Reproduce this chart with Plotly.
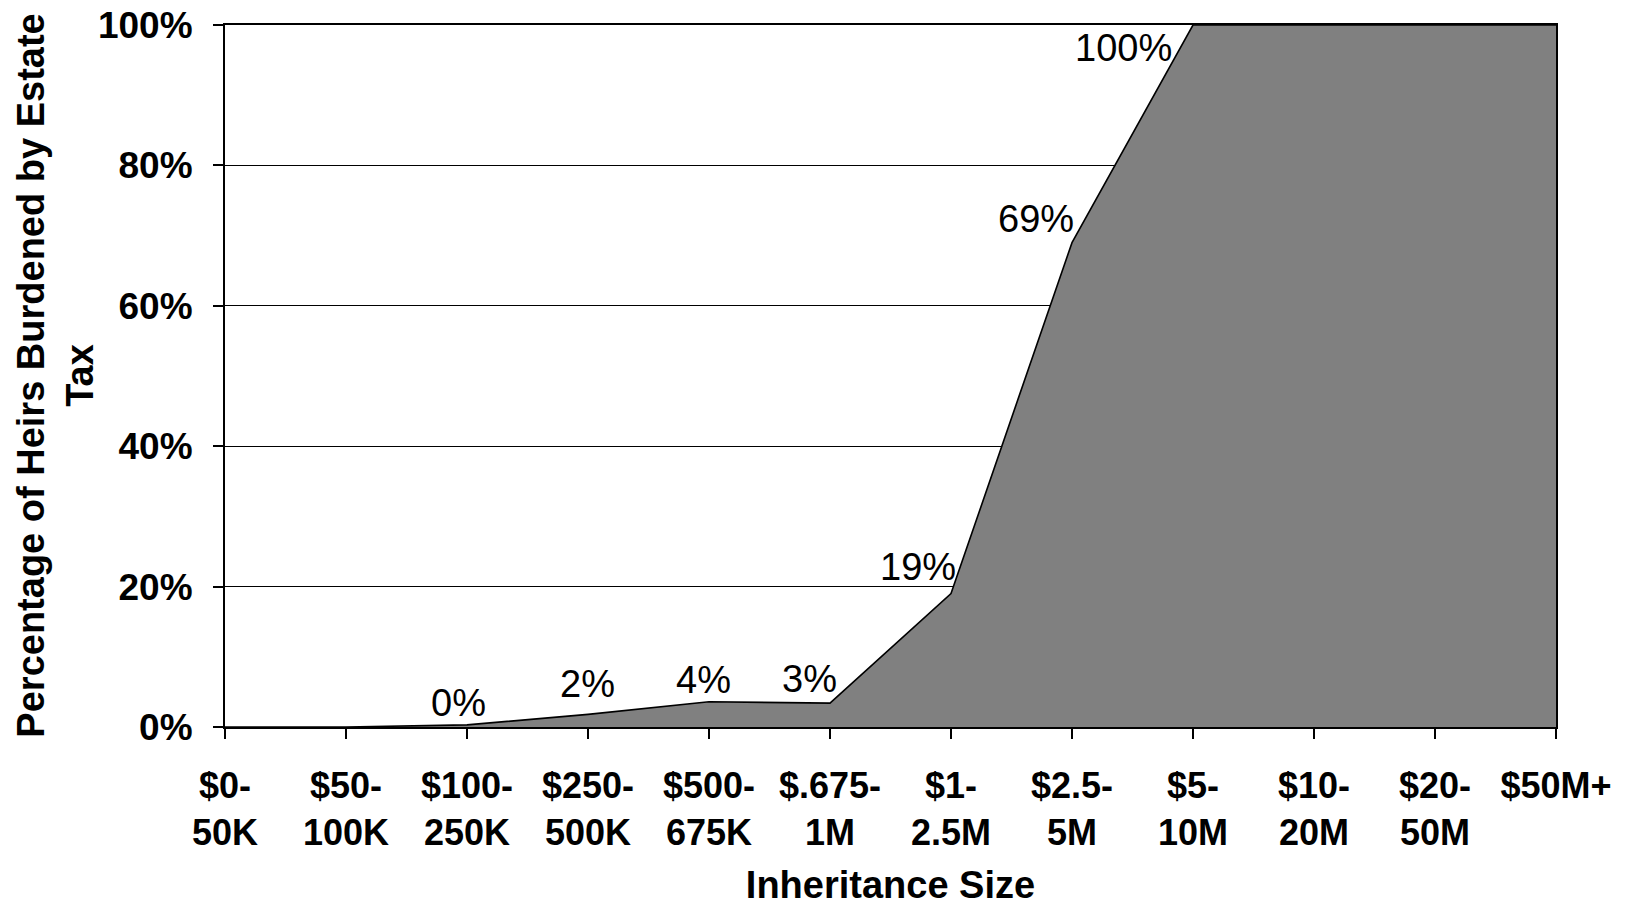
import plotly.graph_objects as go

# Inheritance size brackets (two-line tick labels)
categories = ["$0-<br>50K", "$50-<br>100K", "$100-<br>250K", "$250-<br>500K",
              "$500-<br>675K", "$.675-<br>1M", "$1-<br>2.5M", "$2.5-<br>5M",
              "$5-<br>10M", "$10-<br>20M", "$20-<br>50M", "$50M+"]
# Share of heirs burdened by the estate tax, percent
burdened_pct = [0, 0, 0.3, 1.8, 3.6, 3.4, 19, 69, 100, 100, 100, 100]
# Brackets that carry a value label
labelled = [2, 3, 4, 5, 6, 7, 8]
y_ticks = [0, 20, 40, 60, 80, 100]

x = list(range(len(categories)))
FONT = "Liberation Sans, Arial, sans-serif"

fig = go.Figure()
fig.add_trace(go.Scatter(
    x=x, y=burdened_pct, mode="lines", fill="tozeroy",
    fillcolor="#808080", line=dict(color="black", width=1.6),
    hoverinfo="skip", showlegend=False,
))

# label offsets in pixels (dx, dy) relative to each labelled point
label_offsets = {2: (-9, 22), 3: (-1, 30), 4: (-6, 22), 5: (-21, 24),
                 6: (-33, 27), 7: (-36, 24), 8: (-70, -23)}
for i in labelled:
    dx, dy = label_offsets[i]
    fig.add_annotation(
        x=i, y=burdened_pct[i], text=f"{burdened_pct[i]:.0f}%",
        showarrow=False, xshift=dx, yshift=dy,
        font=dict(family=FONT, size=38, color="black"),
    )

fig.add_annotation(
    xref="paper", yref="paper", x=-0.128, y=0.5,
    text="<b>Percentage of Heirs Burdened by Estate<br>Tax</b>",
    textangle=-90, showarrow=False, xanchor="center", yanchor="middle",
    font=dict(family=FONT, size=38, color="black"),
)

fig.update_layout(
    width=1629, height=906,
    margin=dict(l=225, r=73, t=25, b=179),
    paper_bgcolor="white", plot_bgcolor="white",
    font=dict(family=FONT, color="black"),
    xaxis=dict(
        range=[0, len(categories) - 1], tickmode="array", tickvals=x,
        ticktext=[f"<b>{c}</b>" for c in categories],
        tickfont=dict(size=36), ticks="outside", ticklen=10, tickwidth=1.5,
        tickcolor="black", ticklabelstandoff=16, automargin=False,
        showline=True, linecolor="black", linewidth=2,
        mirror=True, showgrid=False, zeroline=False,
        title=dict(text="<b>Inheritance Size</b>", font=dict(size=38), standoff=34),
    ),
    yaxis=dict(
        range=[0, 100], tickmode="array", tickvals=y_ticks,
        ticktext=[f"<b>{v}%</b>" for v in y_ticks],
        tickfont=dict(size=37), ticks="outside", ticklen=10, tickwidth=1.5,
        tickcolor="black", ticklabelstandoff=13, automargin=False,
        showline=True, linecolor="black", linewidth=2, mirror=True,
        showgrid=True, gridcolor="black", gridwidth=1.2, zeroline=False,
    ),
)

fig.write_html("out.html")
